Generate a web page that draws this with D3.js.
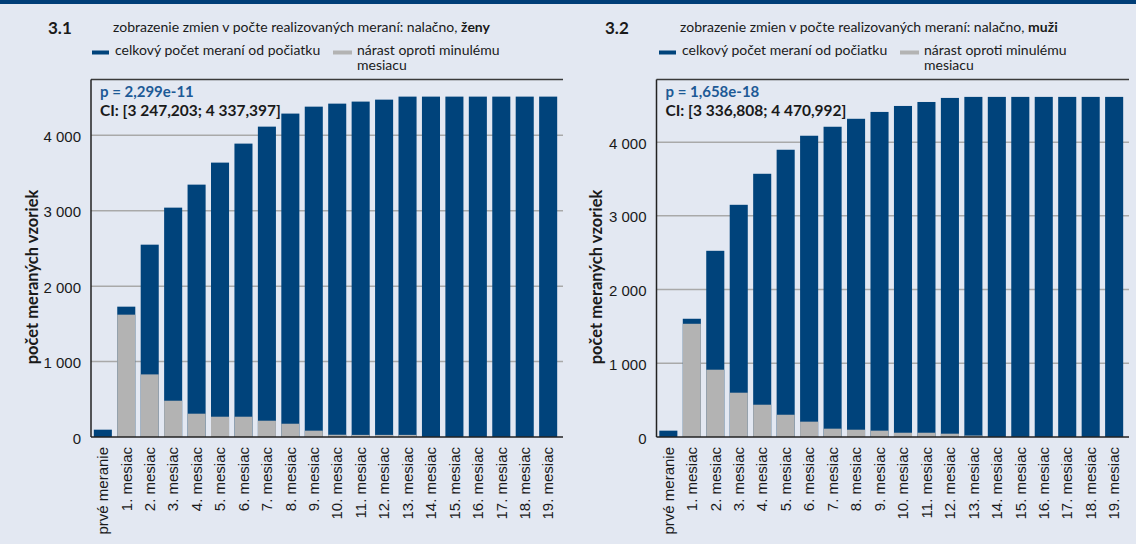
<!DOCTYPE html>
<html>
<head>
<meta charset="utf-8">
<title>Nalačno</title>
<script src="https://cdn.jsdelivr.net/npm/d3@7"></script>
<style>
  body { margin:0; background:#e3e8f2; }
  svg { display:block; font-family: Lato, "Open Sans", sans-serif; }
  .tick text { font-size:15px; fill:#1a1a1a; }
  .ttl { font-size:14px; fill:#1a1a1a; }
</style>
</head>
<body>
<svg id="chart" width="1136" height="544"></svg>
<script>
var categories = ["prvé meranie", "1. mesiac", "2. mesiac", "3. mesiac", "4. mesiac", "5. mesiac",
  "6. mesiac", "7. mesiac", "8. mesiac", "9. mesiac", "10. mesiac", "11. mesiac", "12. mesiac",
  "13. mesiac", "14. mesiac", "15. mesiac", "16. mesiac", "17. mesiac", "18. mesiac", "19. mesiac"];

// 3.1 zeny
var zenyTotal = [97, 1728, 2550, 3041, 3346, 3638, 3890, 4115, 4288, 4380, 4420, 4447, 4473, 4513,
  4513, 4513, 4513, 4513, 4513, 4513];
var zenyRise = [0, 1622, 830, 481, 309, 269, 269, 216, 176, 84, 30, 28, 28, 28, 0, 0, 0, 0, 0, 0];

// 3.2 muzi
var muziTotal = [86, 1604, 2526, 3150, 3571, 3897, 4087, 4209, 4317, 4410, 4491, 4545, 4600, 4614,
  4614, 4614, 4614, 4614, 4614, 4614];
var muziRise = [0, 1536, 913, 601, 438, 302, 208, 113, 99, 86, 58, 58, 45, 20, 0, 0, 0, 0, 0, 0];

var yTicks = [0, 1000, 2000, 3000, 4000];

var blue = "#00437b", grey = "#b3b3b3";
var svg = d3.select("#chart");

svg.append("rect").attr("x", 0).attr("y", 0).attr("width", 1136).attr("height", 4).attr("fill", "#003e78");

function fmt(d) { return d3.format(",")(d).replace(",", " "); }

function drawChart(o) {
  var g = svg.append("g");
  var x = d3.scaleBand().domain(categories).range([o.left, o.right]).paddingInner(0.23).paddingOuter(0.12);
  var y = d3.scaleLinear().domain([0, o.max]).range([437, 79.5]);

  // header
  g.append("text").attr("x", o.numX).attr("y", 34).attr("font-size", 17).attr("font-weight", "bold")
    .attr("fill", "#1a1a1a").text(o.num);
  var t = g.append("text").attr("class", "ttl").attr("x", o.titleX).attr("y", 32);
  t.append("tspan").text("zobrazenie zmien v počte realizovaných meraní: nalačno, ");
  t.append("tspan").attr("font-weight", "bold").text(o.who);

  g.append("rect").attr("x", o.titleX - 21).attr("y", 50.5).attr("width", 17).attr("height", 4).attr("fill", blue);
  g.append("text").attr("class", "ttl").attr("x", o.titleX + 2).attr("y", 55).text("celkový počet meraní od počiatku");
  g.append("rect").attr("x", o.titleX + 220).attr("y", 50.5).attr("width", 19).attr("height", 4).attr("fill", grey);
  g.append("text").attr("class", "ttl").attr("x", o.titleX + 244).attr("y", 55).text("nárast oproti minulému");
  g.append("text").attr("class", "ttl").attr("font-size", 13.5).attr("x", o.titleX + 244).attr("y", 70).text("mesiacu");

  // gridlines
  g.append("g").selectAll("line").data(yTicks.slice(1)).join("line")
    .attr("x1", o.left).attr("x2", o.right + 3)
    .attr("y1", d => y(d)).attr("y2", d => y(d))
    .attr("stroke", "#a9a9a9").attr("stroke-width", 1.5);

  // bars
  g.append("g").selectAll("rect").data(o.total).join("rect")
    .attr("x", (d, i) => x(categories[i])).attr("width", x.bandwidth())
    .attr("y", d => y(d)).attr("height", d => y(0) - y(d)).attr("fill", blue);
  g.append("g").selectAll("rect").data(o.rise).join("rect")
    .attr("x", (d, i) => x(categories[i])).attr("width", x.bandwidth())
    .attr("y", d => y(d)).attr("height", d => y(0) - y(d)).attr("fill", grey);

  // frame
  g.append("line").attr("x1", o.left).attr("x2", o.right + 3).attr("y1", 79.5).attr("y2", 79.5)
    .attr("stroke", "#3a3a3a").attr("stroke-width", 1.5);

  var ya = g.append("g").attr("transform", "translate(" + o.left + ",0)")
    .call(d3.axisLeft(y).tickValues(yTicks).tickSize(0).tickPadding(10).tickFormat(fmt));
  ya.select(".domain").attr("stroke", "#222").attr("stroke-width", 1.5).attr("d", "M0,79.5V437");
  ya.selectAll(".tick text").attr("dy", "0.4em");

  var xa = g.append("g").attr("transform", "translate(0,437)")
    .call(d3.axisBottom(x).tickSize(0).tickPadding(0));
  xa.select(".domain").attr("stroke", "#222").attr("stroke-width", 1.5)
    .attr("d", "M" + o.left + ",0H" + (o.right + 3));
  xa.selectAll(".tick text").attr("transform", "rotate(-90)").attr("text-anchor", "end")
    .attr("font-size", 15.5).attr("x", -10).attr("y", 0).attr("dy", "0.35em");

  g.append("text").attr("transform", "translate(" + o.yTitleX + ",277) rotate(-90)")
    .attr("text-anchor", "middle").attr("font-size", 16.5).attr("font-weight", "bold").attr("fill", "#1a1a1a")
    .text("počet meraných vzoriek");

  g.append("text").attr("x", o.left + 9).attr("y", 97).attr("font-size", 15).attr("font-weight", "bold")
    .attr("fill", "#1d5a96").text(o.p);
  g.append("text").attr("x", o.left + 9).attr("y", 116).attr("font-size", 15.5).attr("font-weight", "bold")
    .attr("fill", "#1a1a1a").text(o.ci);
}

drawChart({ left: 91, right: 560, max: 4740, total: zenyTotal, rise: zenyRise,
  num: "3.1", numX: 48, titleX: 113, who: "ženy", yTitleX: 38,
  p: "p = 2,299e-11", ci: "CI: [3 247,203; 4 337,397]" });
drawChart({ left: 656.5, right: 1126, max: 4850, total: muziTotal, rise: muziRise,
  num: "3.2", numX: 605, titleX: 680, who: "muži", yTitleX: 602,
  p: "p = 1,658e-18", ci: "CI: [3 336,808; 4 470,992]" });
</script>
</body>
</html>
